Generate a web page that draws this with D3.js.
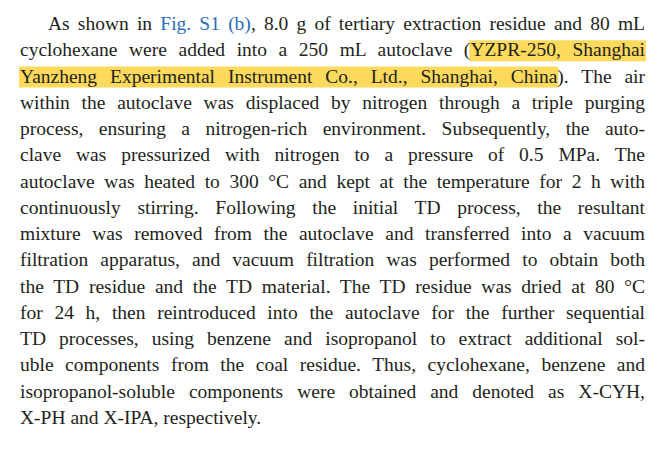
<!DOCTYPE html>
<html><head><meta charset="utf-8">
<script src="https://cdn.jsdelivr.net/npm/d3@7"></script>
<style>body{margin:0;background:#fff}</style>
</head><body>
<svg id="c" width="666" height="449"></svg>
<script>
// paragraph lines; segments: [text, style] with style "n" normal, "l" link, "h" highlight
const lines = [
  [["As shown in ","n"],["Fig. S1 (b)","l"],[", 8.0 g of tertiary extraction residue and 80 mL","n"]],
  [["cyclohexane were added into a 250 mL autoclave (","n"],["YZPR-250, Shanghai","h"]],
  [["Yanzheng Experimental Instrument Co., Ltd., Shanghai, China","h"],["). The air","n"]],
  [["within the autoclave was displaced by nitrogen through a triple purging","n"]],
  [["process, ensuring a nitrogen-rich environment. Subsequently, the auto-","n"]],
  [["clave was pressurized with nitrogen to a pressure of 0.5 MPa. The","n"]],
  [["autoclave was heated to 300 °C and kept at the temperature for 2 h with","n"]],
  [["continuously stirring. Following the initial TD process, the resultant","n"]],
  [["mixture was removed from the autoclave and transferred into a vacuum","n"]],
  [["filtration apparatus, and vacuum filtration was performed to obtain both","n"]],
  [["the TD residue and the TD material. The TD residue was dried at 80 °C","n"]],
  [["for 24 h, then reintroduced into the autoclave for the further sequential","n"]],
  [["TD processes, using benzene and isopropanol to extract additional sol-","n"]],
  [["uble components from the coal residue. Thus, cyclohexane, benzene and","n"]],
  [["isopropanol-soluble components were obtained and denoted as X-CYH,","n"]],
  [["X-PH and X-IPA, respectively.","n"]]
];
const svg = d3.select("#c");
const y = d3.scaleLinear().domain([0, lines.length-1]).range([30, 424]);
const left = 20, right = 645, indent = 28;
const hlLayer = svg.append("g");
const txLayer = svg.append("g");
lines.forEach((segs, i) => {
  const x0 = left + (i === 0 ? indent : 0);
  const t = txLayer.append("text").attr("x", x0).attr("y", y(i))
    .attr("font-family", "'Liberation Serif', serif")
    .attr("font-size", 19.5).attr("fill", "#231f20").attr("xml:space","preserve");
  segs.forEach(([s, st]) => {
    t.append("tspan").text(s).attr("fill", st === "l" ? "#2a6ebb" : "#231f20");
  });
  const full = segs.map(d => d[0]).join("");
  const node = t.node();
  if (i < lines.length - 1) {
    const w = node.getComputedTextLength();
    const spaces = (full.match(/ /g) || []).length;
    const ws = (right - x0 - w) / spaces;
    t.attr("word-spacing", ws);
  }
  let idx = 0;
  segs.forEach(([s, st]) => {
    if (st === "h") {
      const a = node.getStartPositionOfChar(idx).x;
      const b = node.getEndPositionOfChar(idx + s.length - 1).x;
      hlLayer.append("rect").attr("x", a - 1).attr("y", y(i) - 16)
        .attr("width", b - a + 2).attr("height", 21).attr("fill", "#fdd95c");
    }
    idx += s.length;
  });
});
</script>
</body></html>
